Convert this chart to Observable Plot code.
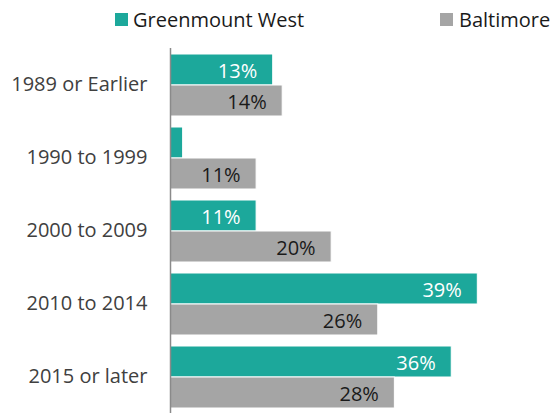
<!DOCTYPE html>
<html>
<head>
<meta charset="utf-8">
<script src="https://cdn.jsdelivr.net/npm/d3@7"></script>
<script src="https://cdn.jsdelivr.net/npm/@observablehq/plot@0.6"></script>
<style>
  body { margin: 0; background: #fff; font-family: "Open Sans", sans-serif; }
  #legend { position: relative; width: 553px; height: 36px; font-size: 20px; color: #1a1a1a; }
  .sw { position: absolute; top: 13px; width: 13px; height: 13px; }
  .lt { position: absolute; top: 19.5px; transform: translateY(-50%); white-space: nowrap; line-height: 1; }
</style>
</head>
<body>
<div id="legend"></div>
<div id="chart"></div>
<script>
const categories = ["1989 or Earlier", "1990 to 1999", "2000 to 2009", "2010 to 2014", "2015 or later"];
const series = ["Greenmount West", "Baltimore"];
const greenmount = [13.0, 1.6, 10.9, 38.9, 35.6];
const baltimore = [14.2, 10.9, 20.4, 26.3, 28.4];
const colors = ["#1CA89B", "#A5A5A5"];

const data = categories.flatMap((c, i) => [
  {cat: c, series: series[0], value: greenmount[i]},
  {cat: c, series: series[1], value: baltimore[i]}
]);

// legend
const legend = document.getElementById("legend");
const legendPos = [[114.5, 133], [440, 459]];
series.forEach((s, i) => {
  const sw = document.createElement("div");
  sw.className = "sw"; sw.style.left = legendPos[i][0] + "px"; sw.style.background = colors[i];
  const t = document.createElement("div");
  t.className = "lt"; t.style.left = legendPos[i][1] + "px"; t.textContent = s;
  legend.appendChild(sw); legend.appendChild(t);
});

const W = 553, H = 379, mT = 10, mB = 1, mL = 163, mR = 3;
const pxPerPct = 7.9;
const bandH = (H - mT - mB) / categories.length;

const chart = Plot.plot({
  width: W, height: H,
  marginTop: mT, marginBottom: mB, marginLeft: mL, marginRight: mR,
  style: {fontFamily: "'Open Sans', sans-serif", fontSize: "20px", color: "#404040", background: "white"},
  x: {domain: [-7 / pxPerPct, (W - mR - mL - 7) / pxPerPct], axis: null},
  y: {domain: series, axis: null, paddingInner: 0, paddingOuter: 0.17},
  fy: {domain: categories, padding: 0, label: null, tickSize: 0, tickPadding: 16, axis: "left"},
  color: {domain: series, range: colors},
  marks: [
    Plot.barX(data, {fy: "cat", y: "series", x: "value", fill: "series", stroke: "white", strokeWidth: 1}),
    Plot.text(data.filter(d => d.series === series[0] && d.value >= 5), {
      fy: "cat", y: "series", x: "value", text: d => Math.round(d.value) + "%",
      textAnchor: "end", dx: -16, dy: 1.5, fill: "white"
    }),
    Plot.text(data.filter(d => d.series === series[1] && d.value >= 5), {
      fy: "cat", y: "series", x: "value", text: d => Math.round(d.value) + "%",
      textAnchor: "end", dx: -16, dy: 1.5, fill: "#1a1a1a"
    }),
    Plot.ruleX([0], {stroke: "#8a8a8a", strokeWidth: 1.5}),
    Plot.ruleY(categories, {fy: d => d, x1: -7 / pxPerPct, x2: 0, dy: -bandH / 2, stroke: "#8a8a8a", strokeWidth: 1.5}),
    Plot.ruleY(categories.slice(-1), {fy: d => d, x1: -7 / pxPerPct, x2: 0, dy: bandH / 2 - 0.75, stroke: "#8a8a8a", strokeWidth: 1.5})
  ]
});
document.getElementById("chart").appendChild(chart);
</script>
</body>
</html>
